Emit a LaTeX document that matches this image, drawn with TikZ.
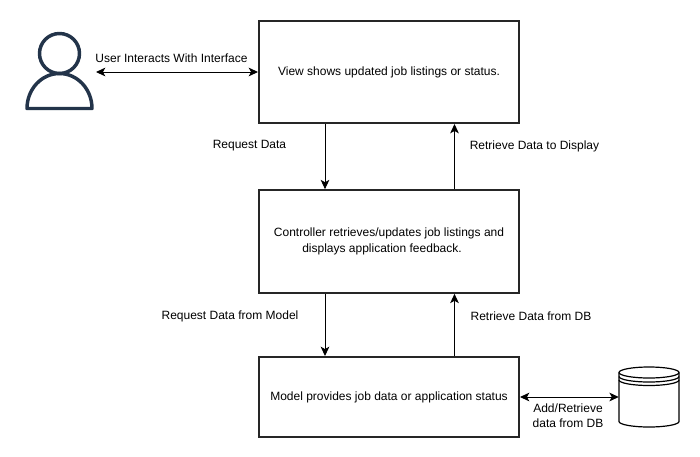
\documentclass[tikz,border=0pt]{standalone}
\usepackage{fontspec}
\setmainfont{Liberation Sans}
\usetikzlibrary{arrows.meta,calc}
\definecolor{persona}{HTML}{23344A}
\tikzset{
  x=0.75pt,y=-0.75pt,
  procbox/.style={draw=black!85,line width=1.5pt,minimum width=195pt,inner sep=0pt,font=\fontsize{9}{12.5}\selectfont,align=center},
  lbl/.style={font=\fontsize{9}{11.5}\selectfont,align=center,inner sep=0pt},
  flow/.style={draw=black,line width=0.75pt,-{Stealth[length=7pt,width=6.5pt,inset=1.8pt]}},
  flowboth/.style={draw=black,line width=0.75pt,{Stealth[length=7pt,width=6.5pt,inset=1.8pt]}-{Stealth[length=7pt,width=6.5pt,inset=1.8pt]}},
  persona line/.style={draw=persona,line width=2.6pt,line join=round},
  dbline/.style={draw=black,line width=0.9pt}
}
\begin{document}
\begin{tikzpicture}
\useasboundingbox (0,0) rectangle (700,457);
% boxes
\node[procbox,minimum height=76.5pt] (view) at (389,72) {View shows updated job listings or status.};
\node[procbox,minimum height=77pt] (ctrl) at (389,241.5) {\raisebox{-1.1pt}{Controller retrieves/updates job listings and}\\\raisebox{-1.1pt}{displays application feedback.\hspace*{10.5pt}}};
\node[procbox,minimum height=60pt] (model) at (389,397) {Model provides job data or application status};
% guides
\coordinate (dn) at (325,0);
\coordinate (up) at (454.5,0);
% person
\node[draw=persona,line width=2.6pt,circle,minimum size=30pt,inner sep=0pt] (head) at (59.5,53.5) {};
\draw[persona line] (27,108.5) arc[start angle=180,end angle=360,x radius=32.5,y radius=35] -- cycle;
\coordinate (userend) at (96,72);
% database
\node[minimum width=45pt,minimum height=45pt,inner sep=0pt] (db) at (649,397) {};
\draw[dbline,fill=white] (619,372.5) -- (619,421.5) arc[start angle=180,end angle=0,x radius=30,y radius=5.5] -- (679,372.5) arc[start angle=0,end angle=-180,x radius=30,y radius=5.5] -- cycle;
\draw[dbline] (619,372.5) arc[start angle=180,end angle=0,x radius=30,y radius=5.5];
\draw[dbline] (619,376.5) arc[start angle=180,end angle=0,x radius=30,y radius=5.5];
\draw[dbline] (619,380) arc[start angle=180,end angle=0,x radius=30,y radius=5.5];
% connectors
\draw[flowboth] (userend) -- (view.west |- userend);
\draw[flow] (view.south -| dn) -- (ctrl.north -| dn);
\draw[flow] (ctrl.north -| up) -- (view.south -| up);
\draw[flow] (ctrl.south -| dn) -- (model.north -| dn);
\draw[flow] (model.north -| up) -- (ctrl.south -| up);
\draw[flowboth] (model.east) -- (db.west);
% labels
\node[lbl] (l1) at (171.5,58) {User Interacts With Interface};
\node[lbl] (l2) at (249.5,146) {Request Data};
\node[lbl] (l3) at (534.5,146) {Retrieve Data to Display};
\node[lbl] (l4) at (230,316) {Request Data from Model};
\node[lbl] (l5) at (531,316) {Retrieve Data from DB};
\node[lbl] (l6) at (568,416) {Add/Retrieve\\data from DB};
\end{tikzpicture}
\end{document}
